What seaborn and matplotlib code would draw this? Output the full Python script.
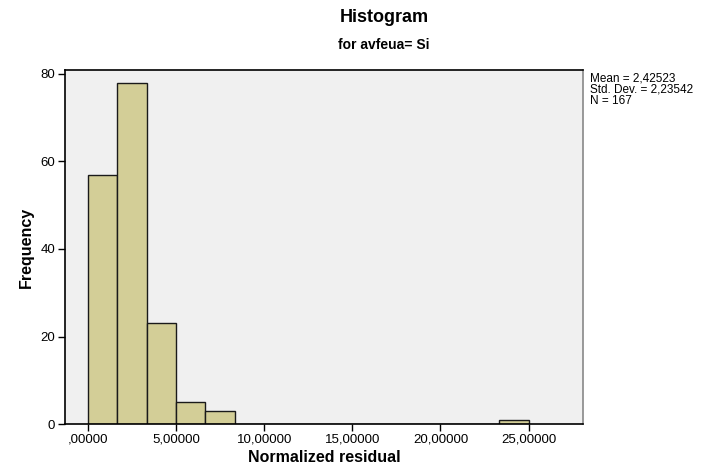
import numpy as np
import pandas as pd
import matplotlib
matplotlib.use("Agg")
import matplotlib.pyplot as plt
import seaborn as sns

# hodnoty (15 tříd šířky 25/15)
bin_edges = [i * 25 / 15 for i in range(16)]
bin_counts = [57, 78, 23, 5, 3, 0, 0, 0, 0, 0, 0, 0, 0, 0, 1]
x_ticks = [0, 5, 10, 15, 20, 25]
x_tick_labels = [",00000", "5,00000", "10,00000", "15,00000", "20,00000", "25,00000"]
y_ticks = [0, 20, 40, 60, 80]
stats_text = "Mean = 2,42523\nStd. Dev. = 2,23542\nN = 167"

centers = [(bin_edges[i] + bin_edges[i + 1]) / 2 for i in range(len(bin_counts))]
df = pd.DataFrame({"residual": centers, "count": bin_counts})

sns.set_style("white")
plt.rcParams["font.family"] = ["Liberation Sans", "DejaVu Sans"]
plt.rcParams["text.color"] = "black"
plt.rcParams["axes.labelcolor"] = "black"
plt.rcParams["xtick.color"] = "black"
plt.rcParams["ytick.color"] = "black"

fig = plt.figure(figsize=(7.1, 4.66), dpi=100)
ax = fig.add_axes([0.0915, 0.090, 0.730, 0.760])
ax.set_facecolor("#F0F0F0")

sns.histplot(data=df, x="residual", weights="count", bins=bin_edges, ax=ax,
             color="#D3CE97", edgecolor="#1a1a1a", linewidth=1.0, alpha=1)

ax.set_xlim(-1.3, 28.1)
ax.set_ylim(0, 80.9)
ax.set_xticks(x_ticks)
ax.set_xticklabels(x_tick_labels, fontsize=9.5)
ax.set_yticks(y_ticks)
ax.set_yticklabels([str(v) for v in y_ticks], fontsize=9.5)
ax.tick_params(axis="both", direction="out", length=5, width=1, color="black",
               left=True, bottom=True, pad=2)

for side in ["top", "left", "bottom"]:
    ax.spines[side].set_color("black")
    ax.spines[side].set_linewidth(1.2)
ax.spines["right"].set_color("#888888")
ax.spines["right"].set_linewidth(1.2)

ax.set_xlabel("Normalized residual", fontsize=11.5, fontweight="bold", labelpad=3)
ax.set_ylabel("Frequency", fontsize=11.5, fontweight="bold", labelpad=5)

fig.text(0.541, 0.962, "Histogram", ha="center", va="center", fontsize=13, fontweight="bold")
fig.text(0.541, 0.903, "for avfeua= Si", ha="center", va="center", fontsize=10, fontweight="bold")
fig.text(0.831, 0.845, stats_text, ha="left", va="top", fontsize=8.5, linespacing=0.95)

fig.savefig("out.png", dpi=100, facecolor="white")
